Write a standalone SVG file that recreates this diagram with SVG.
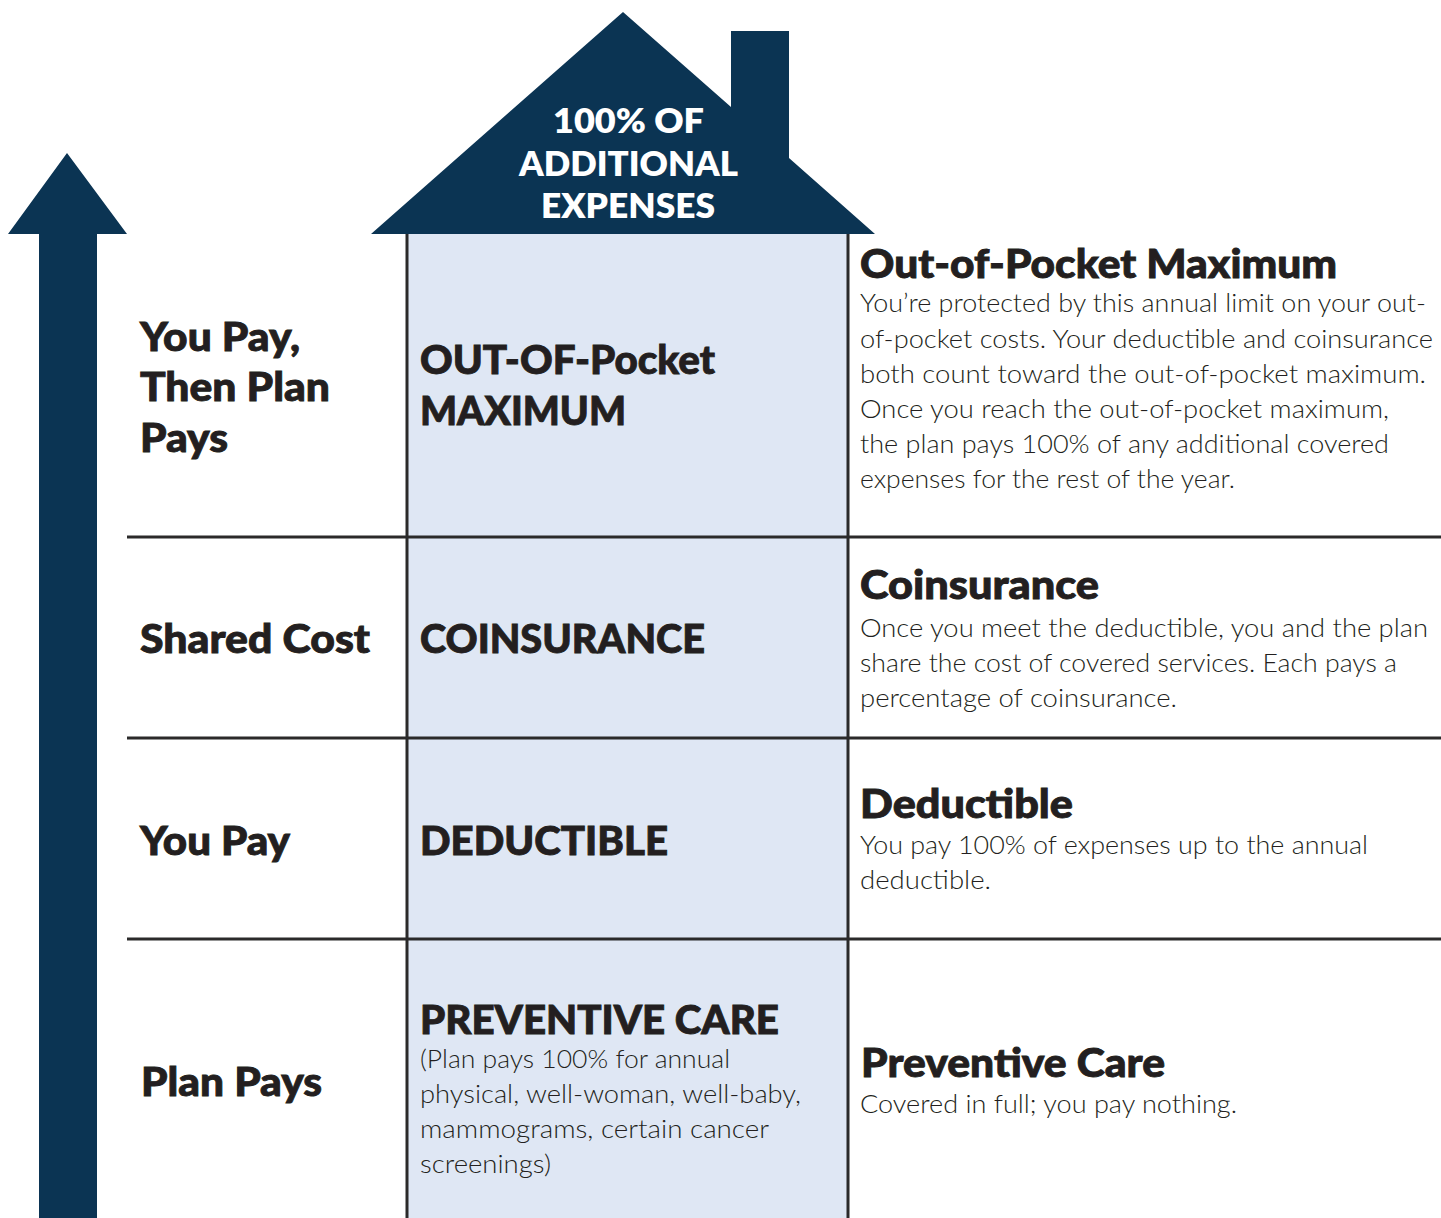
<svg xmlns="http://www.w3.org/2000/svg" width="1441" height="1218" viewBox="0 0 1441 1218">
<defs>
<style>
.navy{fill:#0b3453}
.col{fill:#dfe7f4}
.ln{stroke:#2b2a2a;stroke-width:3;fill:none}
.h{font-family:Lato,"Liberation Sans",sans-serif;font-weight:900;font-size:40px;fill:#231f20;stroke:#231f20;stroke-width:0.9}
.roof{font-family:Lato,"Liberation Sans",sans-serif;font-weight:800;font-size:33px;fill:#ffffff}
.b{font-family:Lato,"Liberation Sans",sans-serif;font-weight:300;font-size:26px;fill:#231f20}
</style>
</defs>
<rect width="1441" height="1218" fill="#ffffff"/>

<g id="arrow">
<polygon class="navy" points="67,153 127,234 97,234 97,1218 39,1218 39,234 8,234"/>
</g>

<g id="middle-column">
<rect class="col" x="407" y="233" width="441" height="985"/>
</g>

<g id="house">
<polygon class="navy" points="371,234 623,12 731,107 731,31 789,31 789,158 875,234"/>
<text class="roof" x="553" y="133" textLength="151" lengthAdjust="spacingAndGlyphs">100% OF</text>
<text class="roof" x="519" y="176" textLength="219" lengthAdjust="spacingAndGlyphs">ADDITIONAL</text>
<text class="roof" x="541" y="218" textLength="174" lengthAdjust="spacingAndGlyphs">EXPENSES</text>
</g>

<g id="connectors">
<line class="ln" x1="407" y1="234" x2="407" y2="1218"/>
<line class="ln" x1="848" y1="234" x2="848" y2="1218"/>
<line class="ln" x1="127" y1="537" x2="1441" y2="537"/>
<line class="ln" x1="127" y1="738" x2="1441" y2="738"/>
<line class="ln" x1="127" y1="939" x2="1441" y2="939"/>
</g>

<g id="row-oop">
<text class="h" x="140" y="351" textLength="160" lengthAdjust="spacingAndGlyphs">You Pay,</text>
<text class="h" x="140" y="401" textLength="190" lengthAdjust="spacingAndGlyphs">Then Plan</text>
<text class="h" x="140" y="452" textLength="88" lengthAdjust="spacingAndGlyphs">Pays</text>
<text class="h" x="420" y="374" textLength="295" lengthAdjust="spacingAndGlyphs">OUT-OF-Pocket</text>
<text class="h" x="420" y="425" textLength="206" lengthAdjust="spacingAndGlyphs">MAXIMUM</text>
<text class="h" x="860" y="278" textLength="477" lengthAdjust="spacingAndGlyphs">Out-of-Pocket Maximum</text>
<text class="b" x="860" y="312" textLength="566" lengthAdjust="spacingAndGlyphs">You’re protected by this annual limit on your out-</text>
<text class="b" x="860" y="348" textLength="573" lengthAdjust="spacingAndGlyphs">of-pocket costs. Your deductible and coinsurance</text>
<text class="b" x="860" y="383" textLength="566" lengthAdjust="spacingAndGlyphs">both count toward the out-of-pocket maximum.</text>
<text class="b" x="860" y="418" textLength="529" lengthAdjust="spacingAndGlyphs">Once you reach the out-of-pocket maximum,</text>
<text class="b" x="860" y="453" textLength="529" lengthAdjust="spacingAndGlyphs">the plan pays 100% of any additional covered</text>
<text class="b" x="860" y="488" textLength="375" lengthAdjust="spacingAndGlyphs">expenses for the rest of the year.</text>
</g>

<g id="row-coinsurance">
<text class="h" x="140" y="653" textLength="230" lengthAdjust="spacingAndGlyphs">Shared Cost</text>
<text class="h" x="420" y="653" textLength="285" lengthAdjust="spacingAndGlyphs">COINSURANCE</text>
<text class="h" x="860" y="599" textLength="239" lengthAdjust="spacingAndGlyphs">Coinsurance</text>
<text class="b" x="860" y="637" textLength="568" lengthAdjust="spacingAndGlyphs">Once you meet the deductible, you and the plan</text>
<text class="b" x="860" y="672" textLength="537" lengthAdjust="spacingAndGlyphs">share the cost of covered services. Each pays a</text>
<text class="b" x="860" y="707" textLength="317" lengthAdjust="spacingAndGlyphs">percentage of coinsurance.</text>
</g>

<g id="row-deductible">
<text class="h" x="140" y="855" textLength="150" lengthAdjust="spacingAndGlyphs">You Pay</text>
<text class="h" x="420" y="855" textLength="248" lengthAdjust="spacingAndGlyphs">DEDUCTIBLE</text>
<text class="h" x="860" y="818" textLength="213" lengthAdjust="spacingAndGlyphs">Deductible</text>
<text class="b" x="860" y="854" textLength="508" lengthAdjust="spacingAndGlyphs">You pay 100% of expenses up to the annual</text>
<text class="b" x="860" y="889" textLength="131" lengthAdjust="spacingAndGlyphs">deductible.</text>
</g>

<g id="row-preventive">
<text class="h" x="141" y="1096" textLength="181" lengthAdjust="spacingAndGlyphs">Plan Pays</text>
<text class="h" x="420" y="1034" textLength="359" lengthAdjust="spacingAndGlyphs">PREVENTIVE CARE</text>
<text class="b" x="420" y="1068" textLength="310" lengthAdjust="spacingAndGlyphs">(Plan pays 100% for annual</text>
<text class="b" x="420" y="1103" textLength="381" lengthAdjust="spacingAndGlyphs">physical, well-woman, well-baby,</text>
<text class="b" x="420" y="1138" textLength="349" lengthAdjust="spacingAndGlyphs">mammograms, certain cancer</text>
<text class="b" x="420" y="1173" textLength="131" lengthAdjust="spacingAndGlyphs">screenings)</text>
<text class="h" x="861" y="1077" textLength="304" lengthAdjust="spacingAndGlyphs">Preventive Care</text>
<text class="b" x="860" y="1113" textLength="377" lengthAdjust="spacingAndGlyphs">Covered in full; you pay nothing.</text>
</g>
</svg>
